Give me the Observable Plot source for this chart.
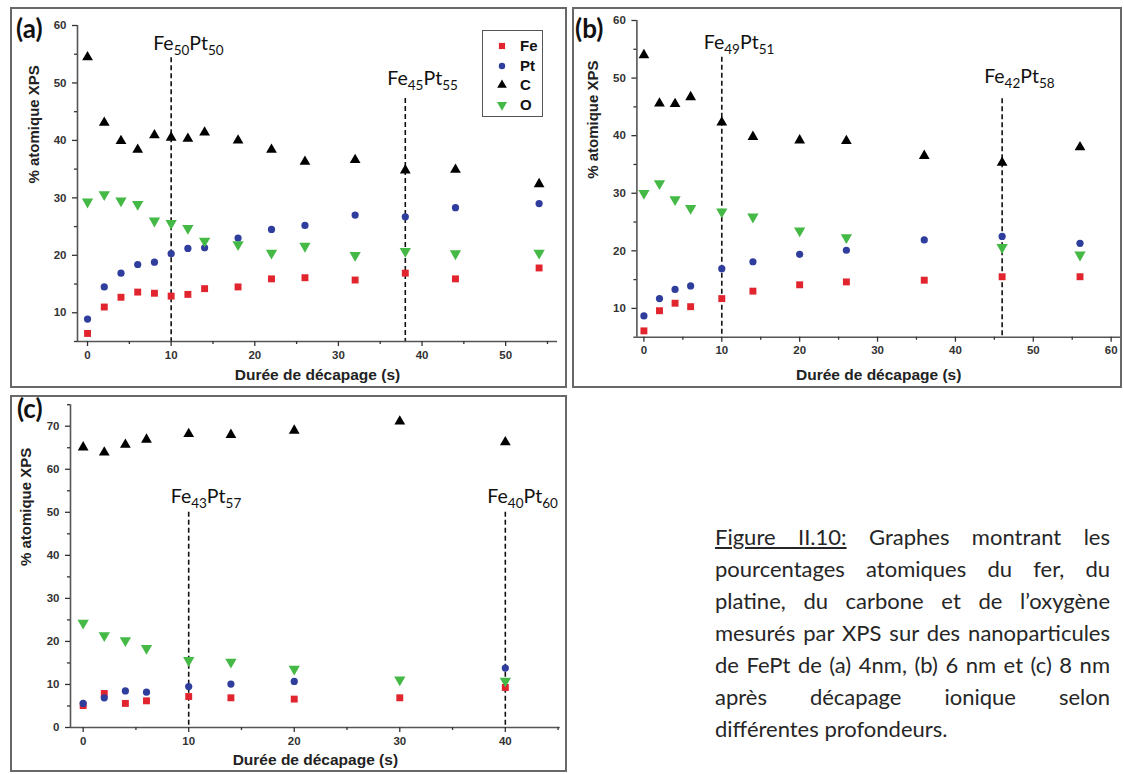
<!DOCTYPE html>
<html><head><meta charset="utf-8">
<script src="https://cdn.jsdelivr.net/npm/d3@7"></script>
<script src="https://cdn.jsdelivr.net/npm/@observablehq/plot@0.6"></script>
<style>
html,body{margin:0;padding:0;background:#fff;}
#page{position:relative;width:1124px;height:774px;overflow:hidden;font-family:"Liberation Sans",Arial,sans-serif;}
.frame{position:absolute;border:2px solid #686868;box-sizing:border-box;}
.panel{position:absolute;}
.tag{position:absolute;font-family:Lato,"Open Sans",sans-serif;font-weight:bold;font-size:26px;line-height:26px;color:#111;}
.legend{position:absolute;border:1.5px solid #555;box-sizing:border-box;background:#fff;}
.legend .row{position:absolute;left:0;height:20px;font:bold 15px "Liberation Sans",Arial,sans-serif;color:#111;}
.caption{position:absolute;font-family:Lato,"Open Sans",sans-serif;color:#262626;}
.caption div{height:32px;line-height:32px;text-align:justify;text-align-last:justify;}
.caption div.last{text-align:left;text-align-last:left;}
</style></head>
<body><div id="page"></div>
<script>
// ---------------- DATA ----------------
const seriesNames = ["Fe", "Pt", "C", "O"];

// (a) 4 nm
const timeA = [0, 2, 4, 6, 8, 10, 12, 14, 18, 22, 26, 32, 38, 44, 54];
const feA = [6.4, 11.0, 12.7, 13.6, 13.4, 12.9, 13.2, 14.2, 14.5, 15.9, 16.1, 15.7, 16.9, 15.9, 17.8];
const ptA = [8.9, 14.5, 16.9, 18.4, 18.8, 20.3, 21.2, 21.3, 23.0, 24.5, 25.2, 27.0, 26.7, 28.3, 29.0];
const cA  = [54.5, 43.1, 39.9, 38.4, 40.9, 40.5, 40.3, 41.4, 40.0, 38.4, 36.3, 36.6, 34.8, 34.9, 32.4];
const oA  = [29.3, 30.6, 29.5, 28.9, 26.0, 25.6, 24.7, 22.5, 21.9, 20.4, 21.6, 20.0, 20.7, 20.3, 20.4];
const annXA = [10, 38], annFeA = [50, 45], annPtA = [50, 55];

// (b) 6 nm
const timeB = [0, 2, 4, 6, 10, 14, 20, 26, 36, 46, 56];
const feB = [6.1, 9.6, 10.9, 10.3, 11.7, 13.0, 14.1, 14.6, 14.9, 15.5, 15.5];
const ptB = [8.7, 11.7, 13.3, 13.9, 16.9, 18.1, 19.4, 20.1, 21.9, 22.5, 21.3];
const cB  = [54.0, 45.6, 45.5, 46.7, 42.3, 39.8, 39.2, 39.1, 36.5, 35.3, 38.0];
const oB  = [30.0, 31.7, 28.9, 27.4, 26.8, 25.9, 23.5, 22.3, null, 20.6, 19.3];
const annXB = [10, 46], annFeB = [49, 42], annPtB = [51, 58];

// (c) 8 nm
const timeC = [0, 2, 4, 6, 10, 14, 20, 30, 40];
const feC = [5.1, 7.9, 5.6, 6.2, 7.2, 6.9, 6.6, 6.9, 9.3];
const ptC = [5.6, 6.9, 8.5, 8.2, 9.5, 10.1, 10.7, null, 13.8];
const cC  = [65.1, 63.9, 65.7, 66.9, 68.2, 68.0, 69.0, 71.1, 66.3];
const oC  = [24.3, 21.4, 20.2, 18.4, 15.6, 15.2, 13.6, 11.1, 10.8];
const annXC = [10, 40], annFeC = [43, 40], annPtC = [57, 60];

// tick labels
const xTicksA = [0, 10, 20, 30, 40, 50];
const xTicksB = [0, 10, 20, 30, 40, 50, 60];
const xTicksC = [0, 10, 20, 30, 40];
const yTicksAB = [10, 20, 30, 40, 50, 60];
const yTicksC = [0, 10, 20, 30, 40, 50, 60, 70];

const xTitle = "Durée de décapage (s)";
const yTitle = "% atomique XPS";
const captionLines = [
  ["Figure II.10:", " Graphes montrant les"],
  ["pourcentages atomiques du fer, du"],
  ["platine, du carbone et de l’oxygène"],
  ["mesurés par XPS sur des nanoparticules"],
  ["de FePt de (a) 4nm, (b) 6 nm et (c) 8 nm"],
  ["après décapage ionique selon"],
  ["différentes profondeurs."]
];

// ---------------- STYLE ----------------
const FONT = "'Liberation Sans', Arial, sans-serif";
const seriesColors = ["#e1242d", "#2f3d9d", "#000000", "#45b946"];
const downTriangle = {
  draw(ctx, size) {
    const y = -Math.sqrt(size / (Math.sqrt(3) * 3));
    ctx.moveTo(0, -y * 2);
    ctx.lineTo(-Math.sqrt(3) * y, y);
    ctx.lineTo(Math.sqrt(3) * y, y);
    ctx.closePath();
  }
};
const seriesSymbols = ["square", "circle", "triangle", downTriangle];
const seriesRadius = [3.9, 3.6, 4.0, 4.2];

const page = document.getElementById("page");

function rowsOf(time, vals) {
  return time.map((t, i) => ({t, v: vals[i]})).filter(d => d.v != null);
}
function minorTicks(lo, hi, step) {
  const out = [];
  for (let v = Math.ceil(lo / step) * step; v <= hi; v += step) if (Math.abs(v % (2 * step)) > 1e-9) out.push(v);
  return out;
}
function addBox(cls, l, t, w, h) {
  const d = document.createElement("div");
  d.className = cls;
  Object.assign(d.style, {left: l + "px", top: t + "px", width: w + "px", height: h + "px"});
  page.appendChild(d);
  return d;
}
function addTag(txt, l, t) {
  const d = document.createElement("div");
  d.className = "tag"; d.textContent = txt;
  d.style.left = l + "px"; d.style.top = t + "px";
  page.appendChild(d);
}

function drawPanel(p) {
  addBox("frame", p.box[0], p.box[1], p.box[2], p.box[3]);
  const [x0, x1] = p.xDomain, [y0, y1] = p.yDomain;
  const ann = p.annX.map((x, i) => ({x, fe: p.annFe[i], pt: p.annPt[i], top: p.annTop[i], ly: p.annLabelY[i]}));
  const dotMarks = p.series.map((vals, k) => Plot.dot(rowsOf(p.time, vals), {
    x: "t", y: "v", symbol: seriesSymbols[k], fill: seriesColors[k], stroke: "none", r: seriesRadius[k]
  }));
  const axisStyle = {color: "#333", fontSize: 11.5, fontWeight: "bold", fontFamily: FONT, label: null, strokeWidth: 1.3};
  const chart = Plot.plot({
    width: p.w, height: p.h,
    marginLeft: p.m[0], marginRight: p.m[1], marginTop: p.m[2], marginBottom: p.m[3],
    x: {domain: p.xDomain, axis: null, label: null},
    y: {domain: p.yDomain, axis: null, label: null},
    style: {background: "transparent", overflow: "visible", fontFamily: FONT},
    marks: [
      Plot.ruleX(ann, {x: "x", y1: "top", y2: y0, stroke: "#111", strokeWidth: 1.6, strokeDasharray: "5,3"}),
      Plot.text(ann, {x: "x", y: "ly", text: d => `Fe${d.fe}Pt${d.pt}`, textAnchor: "start", dx: -18,
        fontSize: 19.5, fontFamily: "Lato, 'Open Sans', sans-serif", fill: "#111", lineAnchor: "middle"}),
      Plot.ruleY([y0], {stroke: "#555", strokeWidth: 1.6}),
      Plot.ruleX([x0], {stroke: "#555", strokeWidth: 1.6}),
      Plot.axisX({...axisStyle, ticks: p.xTicks, tickSize: 5, tickPadding: 4}),
      Plot.axisX({...axisStyle, ticks: minorTicks(x0, x1, 5), tickSize: 3, tickFormat: () => ""}),
      Plot.axisY({...axisStyle, ticks: p.yTicks, tickSize: 5, tickPadding: 6}),
      Plot.axisY({...axisStyle, ticks: minorTicks(y0, y1, 5), tickSize: 3, tickFormat: () => ""}),
      Plot.text([xTitle], {frameAnchor: "bottom", dy: p.xTitleDy, lineAnchor: "middle", fontSize: 15.5, fontWeight: "bold", fontFamily: FONT, fill: "#222"}),
      Plot.text([yTitle], {frameAnchor: "left", dx: p.yTitleDx, rotate: -90, lineAnchor: "middle", fontSize: 15, fontWeight: "bold", fontFamily: FONT, fill: "#222"}),
      ...dotMarks
    ]
  });
  // subscripts in composition labels
  chart.querySelectorAll("text").forEach(t => {
    const m = /^Fe(\d+)Pt(\d+)$/.exec(t.textContent);
    if (!m) return;
    t.textContent = "";
    const ns = "http://www.w3.org/2000/svg";
    const parts = [["Fe", 0], [m[1], 5], ["Pt", -5], [m[2], 5]];
    parts.forEach(([s, dy], i) => {
      const ts = document.createElementNS(ns, "tspan");
      ts.textContent = s;
      if (dy) ts.setAttribute("dy", dy);
      if (i % 2) ts.setAttribute("font-size", "13.5");
      t.appendChild(ts);
    });
  });
  const holder = document.createElement("div");
  holder.className = "panel";
  holder.style.left = p.at[0] + "px"; holder.style.top = p.at[1] + "px";
  holder.appendChild(chart);
  page.appendChild(holder);
  addTag(p.tag, p.tagAt[0], p.tagAt[1]);
}

drawPanel({
  tag: "(a)", tagAt: [16, 15],
  box: [10, 7, 557, 381], at: [12, 9], w: 553, h: 377, m: [65, 8, 16, 45],
  xDomain: [-1.2, 56.2], yDomain: [5, 60], xTicks: xTicksA, yTicks: yTicksAB,
  time: timeA, series: [feA, ptA, cA, oA],
  annX: annXA, annFe: annFeA, annPt: annPtA, annTop: [54.4, 47.3], annLabelY: [56.9, 50.8],
  xTitleDy: 34, yTitleDx: -43
});
drawPanel({
  tag: "(b)", tagAt: [575, 15],
  box: [572, 7, 550, 381], at: [574, 9], w: 546, h: 377, m: [62.4, 0, 11, 49.3],
  xDomain: [-0.9, 61.2], yDomain: [5, 60], xTicks: xTicksB, yTicks: yTicksAB,
  time: timeB, series: [feB, ptB, cB, oB],
  annX: annXB, annFe: annFeB, annPt: annPtB, annTop: [53.6, 46.4], annLabelY: [56.2, 50.3],
  xTitleDy: 38, yTitleDx: -43.5
});
drawPanel({
  tag: "(c)", tagAt: [17, 395],
  box: [10, 395, 557, 377], at: [12, 397], w: 553, h: 373, m: [58, 5.3, 7.2, 43],
  xDomain: [-1.2, 45.2], yDomain: [0, 75], xTicks: xTicksC, yTicks: yTicksC,
  time: timeC, series: [feC, ptC, cC, oC],
  annX: annXC, annFe: annFeC, annPt: annPtC, annTop: [50, 50], annLabelY: [53.5, 53.5],
  xTitleDy: 33, yTitleDx: -44
});

// ---------------- LEGEND (panel a) ----------------
(function () {
  const lg = addBox("legend", 482, 30, 61, 87);
  seriesNames.forEach((name, k) => {
    const row = document.createElement("div");
    row.className = "row";
    row.style.top = (5 + k * 19.5) + "px";
    const svg = d3.create("svg").attr("width", 30).attr("height", 20).style("position", "absolute").style("left", "5px").style("top", "0px");
    const sym = typeof seriesSymbols[k] === "string"
      ? {square: d3.symbolSquare, circle: d3.symbolCircle, triangle: d3.symbolTriangle}[seriesSymbols[k]]
      : seriesSymbols[k];
    svg.append("path").attr("transform", "translate(14,10)")
      .attr("d", d3.symbol(sym, Math.PI * seriesRadius[k] * seriesRadius[k] * 0.8)())
      .attr("fill", seriesColors[k]);
    row.appendChild(svg.node());
    const lab = document.createElement("span");
    lab.textContent = name;
    Object.assign(lab.style, {position: "absolute", left: "37px", top: "1px", lineHeight: "18px"});
    row.appendChild(lab);
    lg.appendChild(row);
  });
})();

// ---------------- CAPTION ----------------
(function () {
  const width = 395;
  const ctx = document.createElement("canvas").getContext("2d");
  ctx.font = "100px Lato";
  const w = ctx.measureText(captionLines[3].join("")).width;
  let fs = 100 * (width - 2) / w;
  fs = Math.max(16, Math.min(22, fs));
  const cap = document.createElement("div");
  cap.className = "caption";
  Object.assign(cap.style, {left: "715px", top: "521px", width: width + "px", fontSize: fs + "px"});
  captionLines.forEach((parts, i) => {
    const line = document.createElement("div");
    if (i === captionLines.length - 1) line.className = "last";
    parts.forEach((p, j) => {
      const s = document.createElement("span");
      s.textContent = p;
      if (i === 0 && j === 0) s.style.textDecoration = "underline";
      line.appendChild(s);
    });
    cap.appendChild(line);
  });
  page.appendChild(cap);
})();
</script>
</body></html>
